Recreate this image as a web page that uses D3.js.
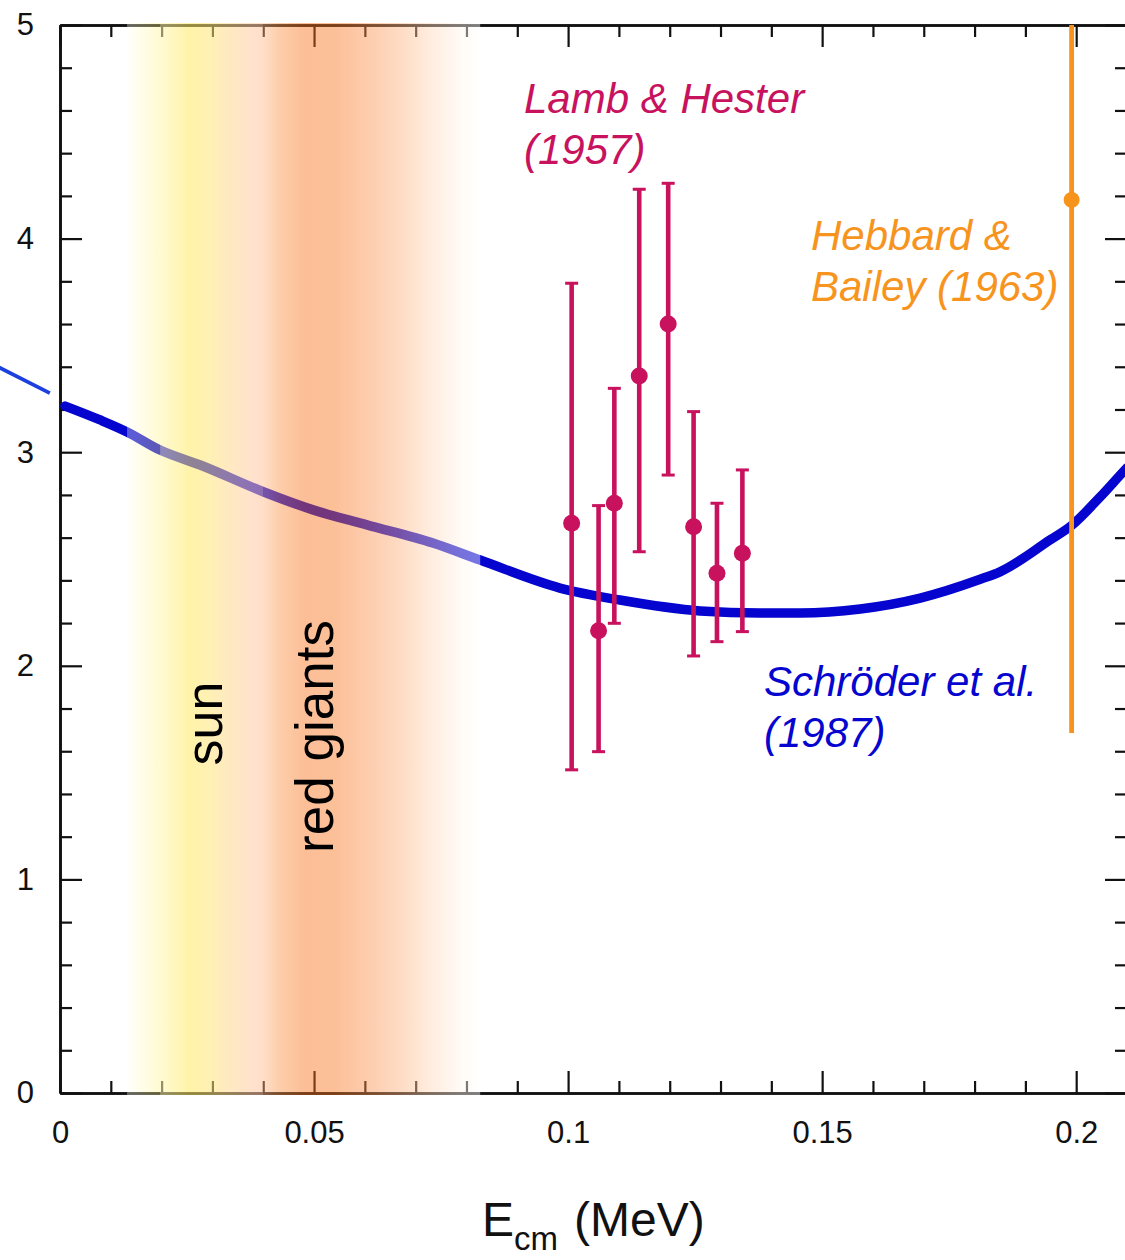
<!DOCTYPE html>
<html><head><meta charset="utf-8">
<script src="https://cdn.jsdelivr.net/npm/d3@7"></script>
<style>
html,body{margin:0;padding:0;background:#fff;}
svg{display:block;font-family:"Liberation Sans",Arial,Helvetica,sans-serif;}
</style></head><body>
<svg id="chart" width="1125" height="1260"></svg>
<script>
// Schröder et al. (1987) S-factor curve: E_cm (MeV) vs S
const curveE = [0.001, 0.0079, 0.0132, 0.0197, 0.0276, 0.0400, 0.0498, 0.0604, 0.0734, 0.0827, 0.0984, 0.1102, 0.1260, 0.1378, 0.1457, 0.1575, 0.1693, 0.1811, 0.1850, 0.1949, 0.1990, 0.2047, 0.2096, 0.2100];
const curveS = [3.216, 3.151, 3.095, 3.010, 2.940, 2.815, 2.730, 2.660, 2.575, 2.495, 2.364, 2.308, 2.257, 2.247, 2.247, 2.266, 2.317, 2.405, 2.440, 2.590, 2.655, 2.790, 2.917, 2.927];

// thin segment drawn left of the frame
const thinE = [-0.0125, -0.0020];
const thinS = [3.403, 3.277];

// Lamb & Hester (1957)
const lhE  = [0.1007, 0.1060, 0.1091, 0.1140, 0.1197, 0.1247, 0.1293, 0.1343];
const lhS  = [2.667, 2.164, 2.761, 3.357, 3.600, 2.651, 2.433, 2.527];
const lhHi = [3.791, 2.750, 3.299, 4.231, 4.259, 3.190, 2.761, 2.917];
const lhLo = [1.513, 1.598, 2.199, 2.534, 2.893, 2.046, 2.113, 2.160];

// Hebbard & Bailey (1963)
const hbE  = [0.1991];
const hbS  = [4.181];
const hbHi = [5.6];
const hbLo = [1.685];

// tick labels
const xTickVals = [0, 0.05, 0.1, 0.15, 0.2];
const xTickLabels = ["0", "0.05", "0.1", "0.15", "0.2"];
const yTickVals = [0, 1, 2, 3, 4, 5];
const yTickLabels = ["0", "1", "2", "3", "4", "5"];

// Gamow window band (sun / red giants): energy and apparent colour
const bandE   = [0.0132, 0.0150, 0.0197, 0.0256, 0.0295, 0.0340, 0.0384, 0.0400, 0.0433, 0.0482, 0.0540, 0.0610, 0.0670, 0.0728, 0.0787, 0.0827];
const bandRGB = [[255,255,253],[255,254,240],[255,250,210],[255,243,168],[255,240,180],[255,232,195],[255,225,205],[255,222,200],[253,205,170],[252,190,150],[252,192,152],[253,205,175],[254,220,196],[255,236,222],[255,250,245],[255,255,255]];
// band pieces with their overlay opacity
const bandPieces = [[0.0132, 0.0197, 0.35], [0.0197, 0.0400, 0.55], [0.0400, 0.0827, 0.45]];

const m = {left: 60, top: 25, right: 1127, bottom: 1093};
const x = d3.scaleLinear().domain([0, 0.21]).range([m.left, m.right]);
const y = d3.scaleLinear().domain([0, 5]).range([m.bottom, m.top]);

const svg = d3.select("#chart");
const defs = svg.append("defs");
defs.append("clipPath").attr("id", "plot")
  .append("rect").attr("x", m.left).attr("y", m.top)
  .attr("width", m.right - m.left).attr("height", m.bottom - m.top);

const axisColor = "#111";
function styleAxis(g) {
  g.select(".domain").attr("stroke", axisColor).attr("stroke-width", 2.6);
  g.selectAll(".tick line").attr("stroke", axisColor).attr("stroke-width", 2.2);
  g.selectAll(".tick text").attr("fill", "#111").attr("font-size", 31)
    .attr("font-family", "'Liberation Sans', Arial, Helvetica, sans-serif");
}

const minorX = d3.range(0, 0.2101, 0.01).filter(v => Math.abs(v / 0.05 - Math.round(v / 0.05)) > 1e-6);
const minorY = d3.range(0, 5.001, 0.2).filter(v => Math.abs(v - Math.round(v)) > 1e-6);

// bottom axis
svg.append("g").attr("transform", `translate(0,${m.bottom})`)
  .call(d3.axisBottom(x).tickValues(minorX).tickSize(-12).tickSizeOuter(0).tickFormat(""))
  .call(styleAxis);
svg.append("g").attr("transform", `translate(0,${m.bottom})`)
  .call(d3.axisBottom(x).tickValues(xTickVals).tickSize(-22).tickSizeOuter(0)
    .tickPadding(28).tickFormat((d, i) => xTickLabels[i]))
  .call(styleAxis);
// top axis
svg.append("g").attr("transform", `translate(0,${m.top})`)
  .call(d3.axisTop(x).tickValues(minorX).tickSize(-12).tickSizeOuter(0).tickFormat(""))
  .call(styleAxis);
svg.append("g").attr("transform", `translate(0,${m.top})`)
  .call(d3.axisTop(x).tickValues(xTickVals).tickSize(-22).tickSizeOuter(0).tickFormat(""))
  .call(styleAxis);
// left axis
svg.append("g").attr("transform", `translate(${m.left},0)`)
  .call(d3.axisLeft(y).tickValues(minorY).tickSize(-12).tickSizeOuter(0).tickFormat(""))
  .call(styleAxis);
svg.append("g").attr("transform", `translate(${m.left},0)`)
  .call(d3.axisLeft(y).tickValues(yTickVals).tickSize(-22).tickSizeOuter(0)
    .tickPadding(26).tickFormat((d, i) => yTickLabels[i]))
  .call(styleAxis);
// right axis
svg.append("g").attr("transform", `translate(${m.right},0)`)
  .call(d3.axisRight(y).tickValues(minorY).tickSize(-12).tickSizeOuter(0).tickFormat(""))
  .call(styleAxis);
svg.append("g").attr("transform", `translate(${m.right},0)`)
  .call(d3.axisRight(y).tickValues(yTickVals).tickSize(-22).tickSizeOuter(0).tickFormat(""))
  .call(styleAxis);

const blue = "#0505cf";
const line = d3.line().x(d => x(d[0])).y(d => y(d[1])).curve(d3.curveMonotoneX);

// thin segment outside the frame
svg.append("path")
  .datum(thinE.map((e, i) => [e, thinS[i]]))
  .attr("d", line).attr("fill", "none")
  .attr("stroke", "#1c3fe0").attr("stroke-width", 3.6);

const plot = svg.append("g").attr("clip-path", "url(#plot)");

// Schröder curve
plot.append("path")
  .datum(curveE.map((e, i) => [e, curveS[i]]))
  .attr("d", line).attr("fill", "none")
  .attr("stroke", blue).attr("stroke-width", 9.5)
  .attr("stroke-linecap", "round").attr("stroke-linejoin", "round");

// Lamb & Hester points
const crimson = "#c8125e";
const lh = lhE.map((e, i) => ({e, s: lhS[i], hi: lhHi[i], lo: lhLo[i]}));
const lhG = plot.append("g");
lhG.selectAll("line.bar").data(lh).join("line").attr("class", "bar")
  .attr("x1", d => x(d.e)).attr("x2", d => x(d.e))
  .attr("y1", d => y(d.hi)).attr("y2", d => y(d.lo))
  .attr("stroke", crimson).attr("stroke-width", 4.6);
lhG.selectAll("line.capHi").data(lh).join("line").attr("class", "capHi")
  .attr("x1", d => x(d.e) - 6.5).attr("x2", d => x(d.e) + 6.5)
  .attr("y1", d => y(d.hi)).attr("y2", d => y(d.hi))
  .attr("stroke", crimson).attr("stroke-width", 3);
lhG.selectAll("line.capLo").data(lh).join("line").attr("class", "capLo")
  .attr("x1", d => x(d.e) - 6.5).attr("x2", d => x(d.e) + 6.5)
  .attr("y1", d => y(d.lo)).attr("y2", d => y(d.lo))
  .attr("stroke", crimson).attr("stroke-width", 3);
lhG.selectAll("circle").data(lh).join("circle")
  .attr("cx", d => x(d.e)).attr("cy", d => y(d.s)).attr("r", 8.5)
  .attr("fill", crimson);

// Hebbard & Bailey point
const orange = "#f7941e";
const hb = hbE.map((e, i) => ({e, s: hbS[i], hi: hbHi[i], lo: hbLo[i]}));
const hbG = plot.append("g");
hbG.selectAll("line").data(hb).join("line")
  .attr("x1", d => x(d.e)).attr("x2", d => x(d.e))
  .attr("y1", d => y(d.hi)).attr("y2", d => y(d.lo))
  .attr("stroke", orange).attr("stroke-width", 4.8);
hbG.selectAll("circle").data(hb).join("circle")
  .attr("cx", d => x(d.e)).attr("cy", d => y(d.s)).attr("r", 8)
  .attr("fill", orange);

// translucent band laid over axes and curve
const e0 = bandE[0], e1 = bandE[bandE.length - 1];
bandPieces.forEach((p, k) => {
  const a = p[2];
  const grad = defs.append("linearGradient").attr("id", "band" + k)
    .attr("gradientUnits", "userSpaceOnUse")
    .attr("x1", x(e0)).attr("x2", x(e1)).attr("y1", 0).attr("y2", 0);
  bandE.forEach((e, i) => {
    const c = bandRGB[i].map(v => Math.max(0, Math.min(255, Math.round((v - (1 - a) * 255) / a))));
    grad.append("stop").attr("offset", (e - e0) / (e1 - e0))
      .attr("stop-color", `rgb(${c[0]},${c[1]},${c[2]})`);
  });
  svg.append("rect")
    .attr("x", x(p[0])).attr("width", x(p[1]) - x(p[0]))
    .attr("y", m.top - 2).attr("height", m.bottom - m.top + 4)
    .attr("fill", `url(#band${k})`).attr("fill-opacity", a);
});

// band labels
svg.append("text").attr("transform", "translate(222,723.5) rotate(-90)")
  .attr("text-anchor", "middle").attr("font-size", 52).attr("fill", "#000").text("sun");
svg.append("text").attr("transform", "translate(333,736.5) rotate(-90)")
  .attr("text-anchor", "middle").attr("font-size", 53).attr("fill", "#000").text("red giants");

// series labels
function label(lines, x0, y0, color) {
  const t = svg.append("text").attr("font-size", 42).attr("font-style", "italic").attr("fill", color);
  lines.forEach((s, i) => t.append("tspan").attr("x", x0).attr("y", y0 + i * 51).text(s));
}
label(["Lamb & Hester", "(1957)"], 524, 113, crimson);
label(["Hebbard &", "Bailey (1963)"], 811, 250, orange);
label(["Schröder et al.", "(1987)"], 764, 696, blue);

// x-axis title
const title = svg.append("text").attr("x", 482).attr("y", 1236)
  .attr("font-size", 48).attr("fill", "#111");
title.append("tspan").text("E");
title.append("tspan").attr("font-size", 33).attr("dy", 14).text("cm");
title.append("tspan").attr("font-size", 48).attr("dy", -14).attr("dx", 16).text("(MeV)");
</script>
</body></html>
